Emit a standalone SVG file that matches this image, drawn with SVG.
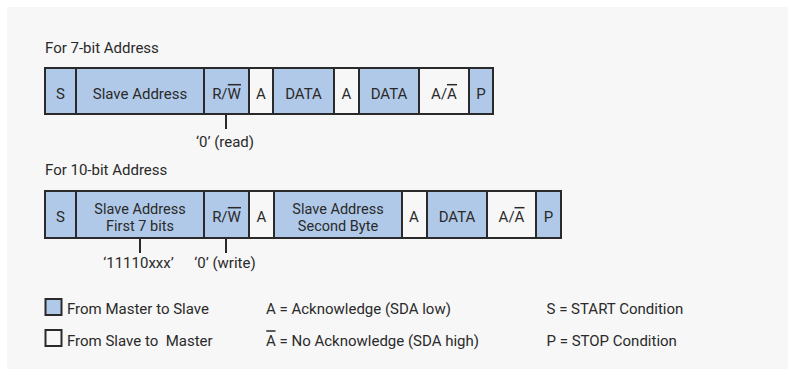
<svg xmlns="http://www.w3.org/2000/svg" width="789" height="371" viewBox="0 0 789 371">
<style>
text{font-family:Roboto,"Liberation Sans",sans-serif;font-size:15px;fill:#2a2a2a}
.c{text-anchor:middle}
.t2{font-size:14.5px}
.m{fill:#b0c9e8;stroke:#2a2a2a;stroke-width:2}
.s{fill:#f7f7f7;stroke:#2a2a2a;stroke-width:2}
.ov{stroke:#2a2a2a;stroke-width:1.5}
.tk{stroke:#2a2a2a;stroke-width:2}
</style>
<rect x="0" y="0" width="789" height="371" fill="#ffffff"/>
<rect x="7" y="7" width="781" height="362" fill="#f7f7f7"/>

<text x="45" y="53">For 7-bit Address</text>
<g id="row7">
<g id="r1-s"><rect class="m" x="45" y="68" width="31" height="46"/><text class="c" x="60.5" y="98.5">S</text></g>
<g id="r1-addr"><rect class="m" x="76" y="68" width="128" height="46"/><text class="c" x="140" y="98.5">Slave Address</text></g>
<g id="r1-rw"><rect class="m" x="204" y="68" width="45" height="46"/><text class="c" x="226.5" y="98.5">R/W</text><line class="ov" x1="227.8" y1="84.7" x2="241" y2="84.7"/></g>
<g id="r1-a1"><rect class="s" x="249" y="68" width="24" height="46"/><text class="c" x="261" y="98.5">A</text></g>
<g id="r1-d1"><rect class="m" x="273" y="68" width="61" height="46"/><text class="c" x="303.5" y="98.5">DATA</text></g>
<g id="r1-a2"><rect class="s" x="334" y="68" width="25" height="46"/><text class="c" x="346.5" y="98.5">A</text></g>
<g id="r1-d2"><rect class="m" x="359" y="68" width="60" height="46"/><text class="c" x="389" y="98.5">DATA</text></g>
<g id="r1-aa"><rect class="s" x="419" y="68" width="50" height="46"/><text class="c" x="444" y="98.5">A/A</text><line class="ov" x1="447" y1="84.7" x2="457" y2="84.7"/></g>
<g id="r1-p"><rect class="m" x="469" y="68" width="24" height="46"/><text class="c" x="481" y="98.5">P</text></g>
</g>

<text x="45" y="175">For 10-bit Address</text>
<g id="row10">
<g id="r2-s"><rect class="m" x="45" y="191" width="31" height="47"/><text class="c" x="60.5" y="222">S</text></g>
<g id="r2-addr1"><rect class="m" x="76" y="191" width="128" height="47"/><text class="c t2" x="140" y="213.5">Slave Address</text><text class="c t2" x="140" y="230.5">First 7 bits</text></g>
<g id="r2-rw"><rect class="m" x="204" y="191" width="45" height="47"/><text class="c" x="226.5" y="222">R/W</text><line class="ov" x1="227.8" y1="207.7" x2="241" y2="207.7"/></g>
<g id="r2-a1"><rect class="s" x="249" y="191" width="25" height="47"/><text class="c" x="261.5" y="222">A</text></g>
<g id="r2-addr2"><rect class="m" x="274" y="191" width="128" height="47"/><text class="c t2" x="338" y="213.5">Slave Address</text><text class="c t2" x="338" y="230.5">Second Byte</text></g>
<g id="r2-a2"><rect class="s" x="402" y="191" width="25" height="47"/><text class="c" x="414" y="222">A</text></g>
<g id="r2-d"><rect class="m" x="427" y="191" width="60" height="47"/><text class="c" x="457" y="222">DATA</text></g>
<g id="r2-aa"><rect class="s" x="487" y="191" width="49" height="47"/><text class="c" x="511.5" y="222">A/A</text><line class="ov" x1="514.5" y1="207.7" x2="524.5" y2="207.7"/></g>
<g id="r2-p"><rect class="m" x="536" y="191" width="25" height="47"/><text class="c" x="548.5" y="222">P</text></g>
</g>

<g id="connectors">
<line class="tk" x1="226" y1="114" x2="226" y2="129"/>
<line class="tk" x1="140" y1="238" x2="140" y2="253"/>
<line class="tk" x1="226" y1="238" x2="226" y2="253"/>
</g>
<g id="annotations">
<text class="c" x="225" y="147">‘0’ (read)</text>
<text class="c" x="138.5" y="268">‘11110xxx’</text>
<text class="c" x="225" y="268">‘0’ (write)</text>
</g>

<g id="legend">
<rect class="m" x="45.5" y="299" width="16" height="16"/>
<text x="67" y="314">From Master to Slave</text>
<rect class="s" x="45.5" y="330" width="16" height="16"/>
<text x="67" y="346" xml:space="preserve" style="white-space:pre">From Slave to  Master</text>
<text x="266" y="314">A = Acknowledge (SDA low)</text>
<text x="266" y="346">A = No Acknowledge (SDA high)</text>
<line class="ov" x1="266.3" y1="331" x2="275.5" y2="331"/>
<text x="546.5" y="314">S = START Condition</text>
<text x="546.5" y="346">P = STOP Condition</text>
</g>
</svg>
